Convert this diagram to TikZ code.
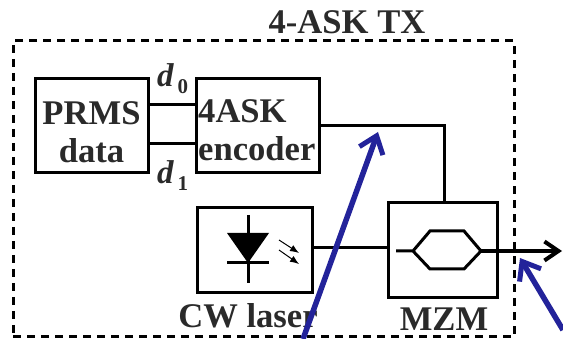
\documentclass[tikz,border=0pt]{standalone}
\usepackage{fontspec}
\setmainfont{Liberation Serif}
\usetikzlibrary{positioning, arrows.meta}
\definecolor{txtgray}{HTML}{2A2A2A}
\definecolor{pointerblue}{HTML}{23239A}
\tikzstyle{wire} = [line width=3pt]
\tikzstyle{pointer} = [line width=5.5pt, pointerblue, -{Straight Barb[length=16pt,width=25pt,line width=5pt]}]

\begin{document}
\begin{tikzpicture}[
    x=1pt, y=-1pt,
    lbl/.style={font=\fontsize{34.6}{38}\bfseries\selectfont, text=txtgray, inner sep=0pt},
    blockbox/.style={draw, line width=3pt, minimum height=94pt},
    sublbl/.style={lbl, anchor=base west, font=\fontsize{33}{33}\bfseries\itshape\selectfont}
  ]
  \useasboundingbox (0,0) rectangle (563,339);

  \node[draw, line width=3pt, dash pattern=on 8pt off 6pt, minimum width=501pt, minimum height=296pt] (tx) at (263.5,189) {};
  \node[lbl] (txlabel) at (347,22) {4-ASK TX};

  \node[blockbox, minimum width=113pt] (prms) at (91.5,126) {};
  \node[blockbox, minimum width=123pt] (enc) at (257.5,126) {};
  \node[blockbox, minimum width=115pt, minimum height=85pt] (laser) at (254.5,250.5) {};
  \node[blockbox, minimum width=109pt, minimum height=95pt] (mzm) at (442.5,250.5) {};

  \node[lbl, align=center, below=-73pt of prms] (prmslabel) {PRMS\\data};
  \node[lbl, align=left, anchor=west] (enclabel) at (198,130) {4ASK\\encoder};
  \node[lbl] (laserlabel) at (248,316) {CW laser};
  \node[lbl] (mzmlabel) at (444,319) {MZM};

  \node[sublbl] (d0) at (157,87) {d\hspace{4pt}\raisebox{-7pt}{\fontsize{21}{21}\upshape 0}};
  \node[sublbl] (d1) at (157,184) {d\hspace{4pt}\raisebox{-7pt}{\fontsize{21}{21}\upshape 1}};

  % data lines
  \draw[wire] (prms.east |- 0,105) -- (enc.west |- 0,105);
  \draw[wire] (prms.east |- 0,144) -- (enc.west |- 0,144);
  \draw[wire] (enc.east) -- (444,126) -- (444,203);
  \draw[wire] ([yshift=2.5pt]laser.east) -- ([yshift=2.5pt]mzm.west);

  % modulator
  \coordinate (mzin) at (396,251);
  \coordinate (hexl) at (413,251);
  \coordinate (hexr) at (481,251);
  \coordinate (out) at (562,251);
  \draw[wire] (mzin) -- (hexl) -- (430,231) -- (464,231) -- (hexr) -- (464,269) -- (430,269) -- (hexl);
  \draw[line width=4pt, -{Straight Barb[length=14pt,width=19pt,line width=4pt]}] (hexr) -- (out);

  % diode
  \coordinate (dtop) at (248,215);
  \coordinate (dbot) at (248,283);
  \draw[wire] (dtop) -- (dbot);
  \draw[wire] (227,263) -- (269,263);
  \fill (227,233) -- (269,233) -- (248,263) -- cycle;
  \draw[line width=1pt, -{Latex[length=9pt,width=7pt]}] (279,240) -- (299,253);
  \draw[line width=1pt, -{Latex[length=9pt,width=7pt]}] (279,250) -- (299,264);

  % pointers
  \coordinate (pa) at (303,339);
  \coordinate (pb) at (378,132);
  \coordinate (qa) at (563,330);
  \coordinate (qb) at (520,258);
  \draw[pointer] (pa) -- (pb);
  \draw[pointer] (qa) -- (qb);
\end{tikzpicture}
\end{document}
